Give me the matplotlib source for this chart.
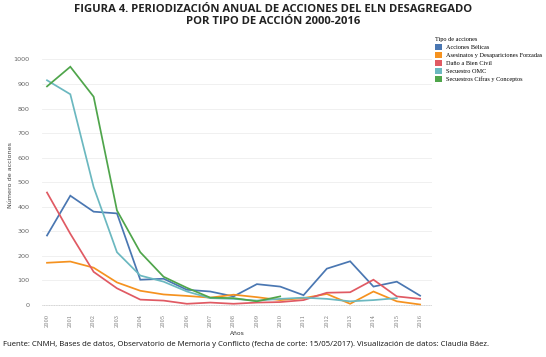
import numpy as np
import matplotlib
matplotlib.use("Agg")
import matplotlib.pyplot as plt
from matplotlib.patches import Patch

years = list(range(2000, 2017))
nan = np.nan
acciones_belicas = [283, 445, 380, 373, 103, 107, 62, 55, 35, 85, 75, 40, 148, 178, 75, 95, 38]
asesinatos = [172, 177, 152, 92, 58, 43, 37, 30, 42, 32, 20, 28, 45, 5, 55, 15, 2]
dano_bien_civil = [458, 290, 135, 68, 22, 18, 5, 10, 5, 10, 12, 20, 50, 52, 103, 35, 25]
secuestro_omc = [915, 858, 480, 215, 120, 95, 55, 28, 25, 18, 25, 30, 25, 15, 20, 28, nan]
secuestros_cifras = [890, 970, 848, 385, 215, 115, 70, 30, 28, 15, 35, nan, nan, nan, nan, nan, nan]

series_names = ["Acciones Bélicas", "Asesinatos y Desapariciones Forzadas",
                "Daño a Bien Civil", "Secuestro OMC", "Secuestros Cifras y Conceptos"]
series_values = [acciones_belicas, asesinatos, dano_bien_civil, secuestro_omc, secuestros_cifras]
colors = ["#4A77B2", "#F5921F", "#E05A63", "#6BB8C0", "#4FA54B"]

fig = plt.figure(figsize=(5.46, 3.57), dpi=100)
ax = fig.add_axes([0.0769, 0.1353, 0.7143, 0.719])

for vals, c in zip(series_values, colors):
    ax.plot(years, vals, color=c, lw=1.25, solid_joinstyle="miter")

ax.set_xlim(1999.785, 2016.51)
ax.set_ylim(-15, 1030)
ax.set_yticks(range(0, 1001, 100))
ax.set_xticks(years)
ax.set_xticklabels([str(y) for y in years], rotation=90, fontsize=3.6,
                   color="#777777", family="DejaVu Serif")
ax.tick_params(axis="y", labelsize=4.6, colors="#777777", length=0, pad=9)
ax.tick_params(axis="x", length=0, pad=4)
for lbl in ax.get_yticklabels():
    lbl.set_color("#666666")
ax.grid(axis="y", color="#eeeeee", lw=0.6)
ax.axhline(0, color="#cccccc", lw=0.6, ls=(0, (1, 1)))
for s in ax.spines.values():
    s.set_visible(False)

ax.set_xlabel("Años", fontsize=4.3, color="#333333", labelpad=3)
ax.set_ylabel("Número de acciones", fontsize=4.6, color="#444444", labelpad=2)
ax.yaxis.set_label_coords(-0.075, 0.52)

handles = [Patch(facecolor=c, edgecolor="none", label=n) for n, c in zip(series_names, colors)]
leg = fig.legend(handles=handles, loc="upper left", bbox_to_anchor=(0.797, 0.897),
                 frameon=False, title="Tipo de acciones",
                 prop={"family": "Liberation Serif", "size": 4.5},
                 handlelength=1.1, handleheight=1.1, handletextpad=0.6,
                 labelspacing=0.32, borderaxespad=0, borderpad=0)
leg.get_title().set_fontsize(4.5)
leg.get_title().set_family("Liberation Serif")
leg._legend_box.align = "left"

fig.text(0.5, 0.99, "FIGURA 4. PERIODIZACIÓN ANUAL DE ACCIONES DEL ELN DESAGREGADO\nPOR TIPO DE ACCIÓN 2000-2016",
         ha="center", va="top", fontsize=8.1, fontweight="bold", family="Open Sans",
         color="#222222", linespacing=1.15)

fig.text(0.005, 0.025, "Fuente: CNMH, Bases de datos, Observatorio de Memoria y Conflicto (fecha de corte: 15/05/2017). Visualización de datos: Claudia Báez.",
         ha="left", va="bottom", fontsize=5.6, family="Open Sans", color="#111111")

fig.savefig("out.png", dpi=100)
